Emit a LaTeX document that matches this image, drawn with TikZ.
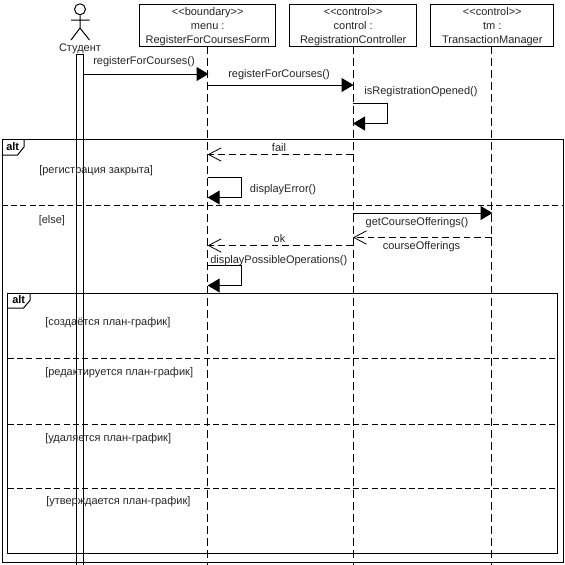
\documentclass[tikz,border=0pt]{standalone}
\usepackage{fontspec}
\setmainfont{Liberation Sans}
\usetikzlibrary{arrows.meta}
\tikzset{
  base/.style={line width=0.75pt,draw=black},
  headbox/.style={base,align=center,inner sep=0pt,font=\fontsize{8.25pt}{10.5pt}\selectfont,text=black!85},
  lifeline/.style={base,dash pattern=on 6pt off 3pt},
  call/.style={base,-{Triangle[length=9pt,width=10.5pt]}},
  reply/.style={base,dash pattern=on 5pt off 3pt,-{Straight Barb[length=9.5pt,width=10pt,line width=0.6pt]}},
  divider/.style={base,dash pattern=on 4.5pt off 2.5pt},
  frame/.style={base},
  lbl/.style={inner sep=0pt,yshift=-1.5pt,text=black!85,font=\fontsize{8.25pt}{10pt}\selectfont,text height=6pt,text depth=1.8pt},
  tabtxt/.style={inner sep=0pt,font=\fontsize{8.25pt}{10pt}\selectfont\bfseries}
}
\newcommand{\headstrut}{\rule{0pt}{8pt}}
\begin{document}
\begin{tikzpicture}[x=0.75pt,y=-0.75pt]
\useasboundingbox (0,0) rectangle (565,565);
\fill[white] (0,0) rectangle (565,565);
% heads
\node[headbox,draw,minimum width=102.4pt,minimum height=31.1pt] (menu) at (207.7,25.3) {\headstrut<{}<boundary>{}>\\menu :\\RegisterForCoursesForm};
\node[headbox,draw,minimum width=95.6pt,minimum height=31.1pt] (ctrl) at (353.2,25.3) {\headstrut<{}<control>{}>\\control :\\RegistrationController};
\node[headbox,draw,minimum width=92.5pt,minimum height=31.1pt] (tm) at (492.3,25.3) {\headstrut<{}<control>{}>\\tm :\\TransactionManager};
% actor
\node[base,draw,circle,inner sep=0pt,minimum size=8.2pt] (head) at (80,9.3) {};
\coordinate (hip) at (80,28);
\coordinate (armL) at (71,20); \coordinate (armR) at (89.5,20);
\coordinate (legL) at (71,40); \coordinate (legR) at (89.5,40);
\draw[base] (head.south) -- (hip) (armL) -- (armR) (legL) -- (hip) -- (legR);
\node[lbl] (student) at (80,46.5) {Студент};
% activation
\node[base,draw,minimum width=5.6pt,minimum height=400pt,inner sep=0pt,anchor=north] (act) at (80.2,53.5) {};
% lifeline ends
\coordinate (menuEnd) at (207.7,566);
\coordinate (ctrlEnd) at (353,566);
\coordinate (tmEnd) at (491.5,566);
\draw[lifeline] (207.7,46) -- (menuEnd);
\draw[lifeline] (353,46) -- (ctrlEnd);
\draw[lifeline] (491.5,46) -- (tmEnd);
% frames
\node[frame,draw,anchor=north west,minimum width=421pt,minimum height=317.5pt,inner sep=0pt] (outer) at (1.5,139) {};
\node[frame,draw,anchor=north west,minimum width=412pt,minimum height=195pt,inner sep=0pt] (inner) at (7.3,292.7) {};
\coordinate (t1a) at (24,139.5); \coordinate (t1b) at (24,147); \coordinate (t1c) at (17.5,155); \coordinate (t1d) at (1.7,155);
\draw[frame] (t1a) -- (t1b) -- (t1c) -- (t1d);
\node[tabtxt] (alt1) at (12.7,147) {alt};
\coordinate (t2a) at (30,293); \coordinate (t2b) at (30,300.5); \coordinate (t2c) at (23.5,308); \coordinate (t2d) at (7.6,308);
\draw[frame] (t2a) -- (t2b) -- (t2c) -- (t2d);
\node[tabtxt] (alt2) at (18.7,300) {alt};
% dividers
\coordinate (d0a) at (1.7,205.5); \coordinate (d0b) at (563,205.5);
\draw[divider] (d0a) -- (d0b);
\coordinate (d1a) at (7.6,358); \coordinate (d1b) at (556.7,358);
\coordinate (d2a) at (7.6,424); \coordinate (d2b) at (556.7,424);
\coordinate (d3a) at (7.6,488); \coordinate (d3b) at (556.7,488);
\draw[divider] (d1a) -- (d1b);
\draw[divider] (d2a) -- (d2b);
\draw[divider] (d3a) -- (d3b);
% messages
\coordinate (m1a) at (84,74); \coordinate (m1b) at (208.5,74);
\draw[call] (m1a) -- (m1b);
\node[lbl] (m1t) at (144,60) {registerForCourses()};
\coordinate (m2a) at (207.7,85); \coordinate (m2b) at (353.5,85);
\draw[call] (m2a) -- (m2b);
\node[lbl] (m2t) at (279,72.5) {registerForCourses()};
\coordinate (s1a) at (353,103.5); \coordinate (s1b) at (387.5,103.5); \coordinate (s1c) at (387.5,123.5); \coordinate (s1d) at (353,123.5);
\draw[call] (s1a) -- (s1b) -- (s1c) -- (s1d);
\node[lbl] (s1t) at (421,90) {isRegistrationOpened()};
\coordinate (m3a) at (353,154.5); \coordinate (m3b) at (207.7,154.5);
\draw[reply] (m3a) -- (m3b);
\node[lbl] (m3t) at (279,147) {fail};
\node[lbl,anchor=west] (g1) at (39,169) {[регистрация закрыта]};
\coordinate (s2a) at (207.7,177.5); \coordinate (s2b) at (241.5,177.5); \coordinate (s2c) at (241.5,197.5); \coordinate (s2d) at (207.7,197.5);
\draw[call] (s2a) -- (s2b) -- (s2c) -- (s2d);
\node[lbl] (s2t) at (283,188) {displayError()};
\node[lbl,anchor=west] (g2) at (38.5,218.5) {[else]};
\coordinate (m4a) at (353,213); \coordinate (m4b) at (492.5,213);
\draw[call] (m4a) -- (m4b);
\node[lbl] (m4t) at (417,220.5) {getCourseOfferings()};
\coordinate (m5a) at (491.5,237.5); \coordinate (m5b) at (353,237.5);
\draw[reply] (m5a) -- (m5b);
\node[lbl] (m5t) at (421.5,244.5) {courseOfferings};
\coordinate (m6a) at (353,245.5); \coordinate (m6b) at (207.7,245.5);
\draw[reply] (m6a) -- (m6b);
\node[lbl] (m6t) at (279.5,238) {ok};
\node[lbl,anchor=west] (s3t) at (210,259) {displayPossibleOperations()};
\coordinate (s3a) at (207.7,265.5); \coordinate (s3b) at (241.5,265.5); \coordinate (s3c) at (241.5,285.5); \coordinate (s3d) at (207.7,285.5);
\draw[call] (s3a) -- (s3b) -- (s3c) -- (s3d);
% guards
\node[lbl,anchor=west] (g3) at (45,321) {[создаётся план-график]};
\node[lbl,anchor=west] (g4) at (45,371) {[редактируется план-график]};
\node[lbl,anchor=west] (g5) at (45,437) {[удаляется план-график]};
\node[lbl,anchor=west] (g6) at (46,500) {[утверждается план-график]};
\end{tikzpicture}
\end{document}
